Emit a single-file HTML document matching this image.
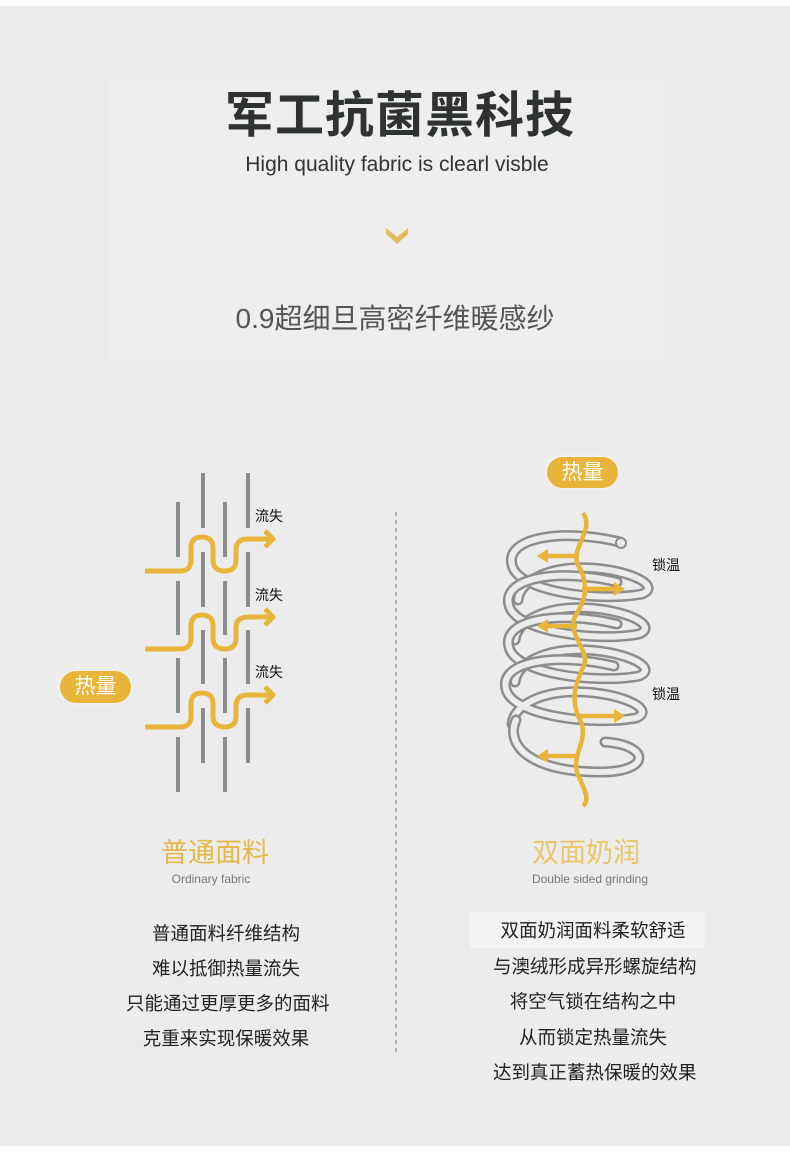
<!DOCTYPE html>
<html><head><meta charset="utf-8"><style>
body{margin:0;width:790px;height:1161px;background:#ececec;position:relative;overflow:hidden;font-family:"Liberation Sans","Noto Sans CJK SC",sans-serif;}
.t{position:absolute;left:0;text-align:center;white-space:nowrap;}
.pill{position:absolute;background:#e8b53a;border-radius:17px;color:#fff;font-size:21px;text-align:center;box-shadow:0 0 4px #fff;}
.lbl{position:absolute;font-size:14px;color:#111;}
</style></head><body>
<div style="position:absolute;left:0;top:0;width:790px;height:6px;background:#fff"></div>
<div style="position:absolute;left:108px;top:80px;width:555px;height:280px;background:#eeeeee"></div>
<div class="t" style="left:0;width:800px;top:76px;font-size:49px;font-weight:bold;color:#2e3331;letter-spacing:1px">军工抗菌黑科技</div>
<div class="t" style="left:0;width:794px;top:153px;font-size:21px;color:#333">High quality fabric is clearl visble</div>
<svg style="position:absolute;left:385px;top:226px" width="24" height="20"><polygon points="1,2 12,11 23,2 23,8 12,18 1,8" fill="#e3bd5c"/></svg>
<div class="t" style="left:0;width:790px;top:297px;font-size:28px;color:#555">0.9超细旦高密纤维暖感纱</div>

<svg style="position:absolute;left:0;top:0" width="790" height="1161">
<g stroke="#8c8c8c" stroke-width="4">
<line x1="178" y1="502" x2="178" y2="557"/><line x1="178" y1="581" x2="178" y2="635"/><line x1="178" y1="658" x2="178" y2="713"/><line x1="178" y1="737" x2="178" y2="792"/>
<line x1="225" y1="502" x2="225" y2="557"/><line x1="225" y1="581" x2="225" y2="635"/><line x1="225" y1="658" x2="225" y2="713"/><line x1="225" y1="737" x2="225" y2="792"/>
<line x1="203" y1="473" x2="203" y2="528"/><line x1="203" y1="552" x2="203" y2="607"/><line x1="203" y1="630" x2="203" y2="684"/><line x1="203" y1="708" x2="203" y2="763"/>
<line x1="248" y1="473" x2="248" y2="528"/><line x1="248" y1="552" x2="248" y2="607"/><line x1="248" y1="630" x2="248" y2="684"/><line x1="248" y1="708" x2="248" y2="763"/>
</g>
<g fill="none" stroke="#e8b53a" stroke-width="5" stroke-linejoin="round">
<g id="r"><path d="M145,571 H180 Q191,571 191,560 V548 Q191,537 202,537 Q213,537 213,548 V560 Q213,571 225,571 Q236,571 236,560 V550 Q236,539 248,539 H273"/><polyline points="265,531 273,539 265,547"/></g>
<use href="#r" y="78"/><use href="#r" y="156"/>
</g>
<line x1="396" y1="512" x2="396" y2="1052" stroke="#777" stroke-width="1" stroke-dasharray="4,4"/>
<g fill="none" stroke-linecap="round">
<g id="coil"><path d="M620,542 C560,528 505,538 512,565 C518,592 600,602 642,594 C662,586 630,570 590,568 C550,566 520,580 518,600" stroke="#8d8d8d" stroke-width="11"/><path d="M620,542 C560,528 505,538 512,565 C518,592 600,602 642,594 C662,586 630,570 590,568 C550,566 520,580 518,600" stroke="#ececec" stroke-width="6"/></g>
<use href="#coil" x="-3" y="40"/><use href="#coil" x="-3" y="82"/><use href="#coil" x="-6" y="124"/>
<path d="M516,720 C505,745 530,772 600,772 C652,772 650,745 605,742" stroke="#8d8d8d" stroke-width="11"/>
<path d="M516,720 C505,745 530,772 600,772 C652,772 650,745 605,742" stroke="#ececec" stroke-width="6"/>
<circle cx="621" cy="543" r="5" stroke="#8d8d8d" stroke-width="2" fill="#ececec"/>
</g>
<g fill="none" stroke="#e8b53a" stroke-width="4.5">
<path d="M583,513 C595,530 570,548 578,565 C590,585 585,600 576,615 C565,632 590,650 584,665 C575,685 570,700 580,720 C590,740 570,755 578,775 C585,790 590,800 583,806"/>
<path d="M578,556 H545 M582,589 H615 M577,626 H545 M580,716 H615 M577,756 H545"/>
</g>
<g fill="#e8b53a">
<polygon points="537,556 548,549 548,563"/><polygon points="625,589 614,582 614,596"/><polygon points="537,626 548,619 548,633"/><polygon points="625,716 614,709 614,723"/><polygon points="537,756 548,749 548,763"/>
</g>
</svg>
<div class="lbl" style="left:255px;top:506px">流失</div>
<div class="lbl" style="left:255px;top:585px">流失</div>
<div class="lbl" style="left:255px;top:662px">流失</div>
<div class="lbl" style="left:652px;top:555px">锁温</div>
<div class="lbl" style="left:652px;top:684px">锁温</div>
<div class="pill" style="left:60px;top:671px;width:71px;height:32px;line-height:32px">热量</div>
<div class="pill" style="left:547px;top:457px;width:71px;height:31px;line-height:31px">热量</div>

<div class="t" style="left:115px;width:200px;top:831px;font-size:27px;color:#e6b84a">普通面料</div>
<div class="t" style="left:111px;width:200px;top:872px;font-size:12px;color:#777">Ordinary fabric</div>
<div class="t" style="left:486px;width:200px;top:831px;font-size:27px;color:#eec46a">双面奶润</div>
<div class="t" style="left:490px;width:200px;top:872px;font-size:12px;color:#777">Double sided grinding</div>

<div style="position:absolute;left:470px;top:912px;width:235px;height:36px;background:#f3f3f3"></div>
<div class="t" style="left:126px;width:200px;top:916px;font-size:18.5px;line-height:35px;color:#222">普通面料纤维结构<br>难以抵御热量流失<br>只能通过更厚更多的面料<br>克重来实现保暖效果</div>
<div class="t" style="left:493px;width:200px;top:913px;font-size:18.5px;line-height:35.5px;color:#222">双面奶润面料柔软舒适<br>与澳绒形成异形螺旋结构<br>将空气锁在结构之中<br>从而锁定热量流失<br>达到真正蓄热保暖的效果</div>
<div style="position:absolute;left:0;top:1146px;width:790px;height:15px;background:#fff"></div>
</body></html>
